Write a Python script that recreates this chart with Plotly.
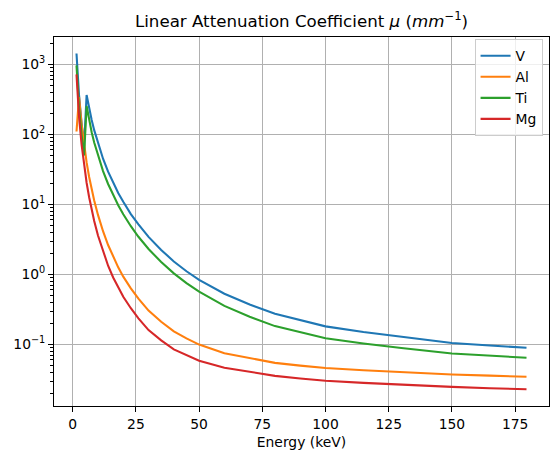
import plotly.graph_objects as go

# ---- data ----
energy_keV = [1.5, 2.5, 3.5, 4.5, 5.5, 6.5, 7.5, 8.5, 10, 12, 14, 16, 18, 20, 23, 26,
              30, 35, 40, 45, 50, 60, 70, 80, 90, 100, 115, 130, 150, 165, 179.5]

mu_V = [1430, 365, 147, 68, 365, 237, 161, 115, 74, 45, 29.4, 20.3, 14.6, 10.9, 7.27, 5.2,
        3.44, 2.24, 1.53, 1.11, 0.838, 0.529, 0.372, 0.274, 0.2205, 0.181, 0.1505, 0.1276,
        0.1048, 0.0965, 0.0897]
mu_Al = [110, 341.7, 140, 70.0, 39.8, 24.7, 16.4, 11.38, 7.08, 4.14, 2.63, 1.779, 1.263,
         0.929, 0.632, 0.451, 0.3045, 0.211, 0.1534, 0.122, 0.0994, 0.075, 0.0632, 0.0545,
         0.0498, 0.046, 0.04275, 0.0401, 0.0372, 0.0358, 0.0345]
mu_Ti = [970, 243, 97.8, 50, 255, 158, 107.5, 76.8, 49.5, 29.96, 19.6, 13.5, 9.72, 7.24,
         4.88, 3.45, 2.31, 1.50, 1.035, 0.752, 0.566, 0.355, 0.248, 0.1825, 0.148, 0.1226,
         0.1031, 0.0886, 0.0743, 0.0689, 0.0645]
mu_Mg = [720, 180, 72.3, 36.0, 20.4, 12.65, 8.35, 5.79, 3.6, 2.10, 1.33, 0.904, 0.643, 0.48,
         0.3286, 0.236, 0.16, 0.114, 0.085, 0.0698, 0.0585, 0.0465, 0.0402, 0.0355, 0.0326,
         0.0302, 0.02818, 0.02652, 0.0247, 0.0237, 0.0229]

series_names = ["V", "Al", "Ti", "Mg"]
series_values = [mu_V, mu_Al, mu_Ti, mu_Mg]
series_colors = ["#1f77b4", "#ff7f0e", "#2ca02c", "#d62728"]

x_ticks = [0, 25, 50, 75, 100, 125, 150, 175]
y_ticks = [0.1, 1, 10, 100, 1000]
y_tick_text = ["10<sup>\u22121</sup>", "10<sup>0</sup>", "10<sup>1</sup>", "10<sup>2</sup>", "10<sup>3</sup>"]
y_minor = [m * 10.0 ** k for k in range(-2, 4) for m in range(2, 10)]

FONT = "DejaVu Sans"
PT = 100 / 72.0

fig = go.Figure()
for name, vals, col in zip(series_names, series_values, series_colors):
    fig.add_trace(go.Scatter(x=energy_keV, y=vals, mode="lines", name=name,
                             line=dict(color=col, width=1.5 * PT)))

axis_common = dict(
    showline=True, linecolor="black", linewidth=0.8 * PT, mirror=True,
    ticks="outside", ticklen=3.5 * PT, tickwidth=0.8 * PT, tickcolor="black",
    showgrid=True, gridcolor="#b0b0b0", gridwidth=0.8 * PT, zeroline=False,
    tickfont=dict(family=FONT, size=10 * PT, color="black"),
)

fig.update_layout(
    width=558, height=459,
    margin=dict(l=54, r=9, t=37, b=53, pad=0),
    paper_bgcolor="white", plot_bgcolor="white",
    font=dict(family=FONT, size=10 * PT, color="black"),
    title=dict(text="Linear Attenuation Coefficient <i>\u03bc</i> (<i>mm</i><sup>\u22121</sup>)",
               x=0.5, xref="paper", xanchor="center",
               y=1 - 21 / 459, yref="container", yanchor="middle",
               font=dict(family=FONT, size=12 * PT, color="black")),
    xaxis=dict(range=[-7.4, 188.4], tickmode="array", tickvals=x_ticks,
               title=dict(text="Energy (keV)", font=dict(family=FONT, size=10 * PT), standoff=6),
               **axis_common),
    yaxis=dict(type="log", range=[-1.880, 3.392], tickmode="array", tickvals=y_ticks,
               ticktext=y_tick_text,
               minor=dict(tickmode="array", tickvals=y_minor, ticks="outside", ticklen=2 * PT,
                          tickwidth=0.6 * PT, tickcolor="black", showgrid=False),
               **axis_common),
    legend=dict(x=0.987, y=0.994, xanchor="right", yanchor="top",
                bgcolor="rgba(255,255,255,0.8)", bordercolor="#cccccc", borderwidth=1,
                font=dict(family=FONT, size=10 * PT)),
    showlegend=True,
)

fig.write_html("out.html")
